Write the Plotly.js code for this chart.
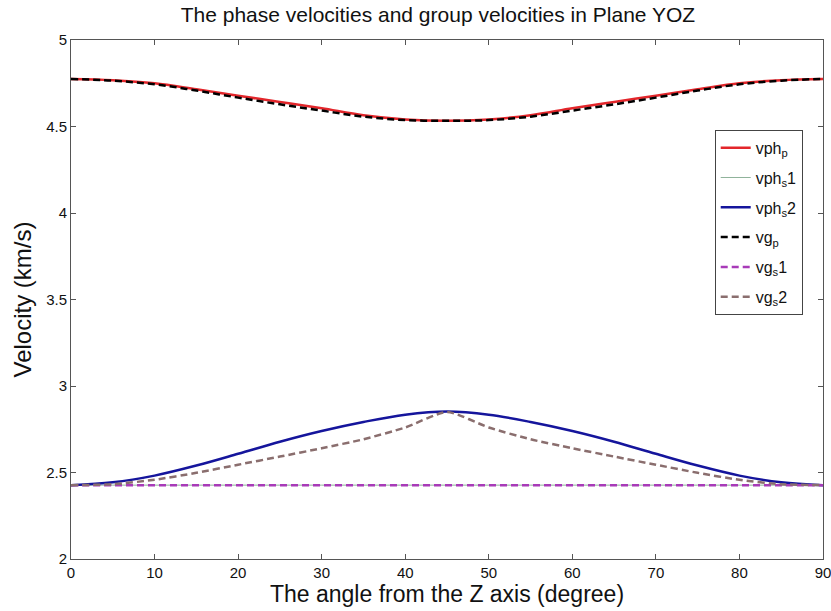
<!DOCTYPE html>
<html>
<head>
<meta charset="utf-8">
<script src="https://cdn.plot.ly/plotly-3.0.1.min.js"></script>
<style>html,body{margin:0;padding:0;background:#fff;}#chart{width:831px;height:611px;}</style>
</head>
<body>
<div id="chart"></div>
<script>
var angle = [0,5,10,15,20,25,30,35,40,45,50,55,60,65,70,75,80,85,90];
var vph_p  = [4.775,4.768,4.750,4.715,4.678,4.642,4.605,4.565,4.541,4.533,4.541,4.565,4.605,4.642,4.678,4.715,4.750,4.768,4.775];
var vph_s1 = [2.427,2.427,2.427,2.427,2.427,2.427,2.427,2.427,2.427,2.427,2.427,2.427,2.427,2.427,2.427,2.427,2.427,2.427,2.427];
var vph_s2 = [2.427,2.443,2.482,2.540,2.608,2.678,2.740,2.792,2.834,2.852,2.834,2.792,2.740,2.678,2.608,2.540,2.482,2.443,2.427];
var vg_p   = [4.775,4.765,4.744,4.708,4.667,4.628,4.592,4.557,4.537,4.533,4.537,4.557,4.592,4.628,4.667,4.708,4.744,4.765,4.775];
var vg_s1  = [2.427,2.427,2.427,2.427,2.427,2.427,2.427,2.427,2.427,2.427,2.427,2.427,2.427,2.427,2.427,2.427,2.427,2.427,2.427];
var vg_s2  = [2.427,2.432,2.458,2.498,2.545,2.592,2.640,2.692,2.760,2.850,2.760,2.692,2.640,2.592,2.545,2.498,2.458,2.432,2.427];
var names = ['vph<sub>p</sub>','vph<sub>s</sub>1','vph<sub>s</sub>2','vg<sub>p</sub>','vg<sub>s</sub>1','vg<sub>s</sub>2'];

function tr(y, name, color, width, dash, group, smooth) {
  return {x: angle, y: y, name: name, mode: 'lines', legendgroup: group,
    line: {color: color, width: width, dash: dash, shape: 'spline', smoothing: smooth}};
}
var data = [
  tr(vph_p, names[0], '#e3262b', 2.5, 'solid', 'a', 1),
  tr(vph_s1, names[1], '#8fb39a', 1, 'solid', 'b', 1),
  tr(vph_s2, names[2], '#15159c', 2.5, 'solid', 'c', 1),
  tr(vg_p, names[3], '#000000', 2.5, '7px,4px', 'd', 1),
  tr(vg_s1, names[4], '#a83ab8', 2.5, '7px,4px', 'e', 1),
  tr(vg_s2, names[5], '#8a6e6e', 2.5, '7px,4px', 'f', 0.6)
];
var axisCommon = {showline: true, mirror: 'ticks', linecolor: '#555', linewidth: 1,
  ticks: 'inside', ticklen: 5, tickcolor: '#555', showgrid: false, zeroline: false,
  ticklabeloverflow: 'allow',
  tickfont: {size: 15, color: '#111', family: 'Liberation Sans, Arial, sans-serif'}};
var layout = {
  width: 831, height: 611,
  margin: {l: 71, r: 8, t: 40, b: 52},
  paper_bgcolor: '#fff', plot_bgcolor: '#fff',
  font: {family: 'Liberation Sans, Arial, sans-serif', color: '#111'},
  title: {text: 'The phase velocities and group velocities in Plane YOZ', x: 0.527, xanchor: 'center', y: 0.988, yanchor: 'top', font: {size: 21}},
  xaxis: Object.assign({}, axisCommon, {range: [0, 90], dtick: 10,
    title: {text: 'The angle from the Z axis (degree)', font: {size: 23}, standoff: 0}}),
  yaxis: Object.assign({}, axisCommon, {range: [2, 5], dtick: 0.5,
    title: {text: 'Velocity (km/s)', font: {size: 24}, standoff: 7}}),
  showlegend: true,
  legend: {x: 0.856, y: 0.827, xanchor: 'left', yanchor: 'top', bgcolor: '#fff',
    bordercolor: '#444', borderwidth: 1, traceorder: 'grouped', tracegroupgap: 6,
    font: {size: 16, color: '#111'}}
};
Plotly.newPlot('chart', data, layout, {displayModeBar: false, staticPlot: true});
</script>
</body>
</html>
